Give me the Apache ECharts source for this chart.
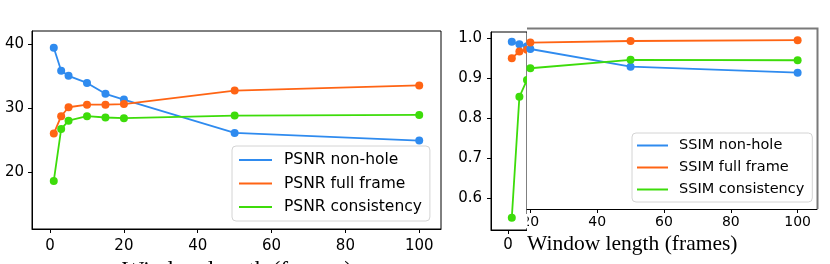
<!DOCTYPE html>
<html><head><meta charset="utf-8">
<script src="https://cdn.jsdelivr.net/npm/echarts@6/dist/echarts.min.js"></script>
<style>html,body{margin:0;padding:0;background:#fff}#c{width:830px;height:264px}</style>
</head><body><div id="c"></div>
<script>
// ---- data ----
const windows = [1, 3, 5, 10, 15, 20, 50, 100];
const psnrNonHole = [39.4, 35.8, 35.0, 33.9, 32.2, 31.3, 26.1, 24.9];
const psnrFullFrame = [26.0, 28.7, 30.1, 30.5, 30.5, 30.6, 32.7, 33.5];
const psnrConsistency = [18.6, 26.7, 28.0, 28.7, 28.5, 28.4, 28.8, 28.9];
const ssimNonHole = [0.990, 0.984, 0.979, null, null, 0.972, 0.928, 0.913];
const ssimFullFrame = [0.949, 0.966, 0.970, null, null, 0.988, 0.992, 0.994];
const ssimConsistency = [0.551, 0.853, 0.895, null, null, 0.924, 0.945, 0.944];
const psnrXTicks = [0, 20, 40, 60, 80, 100];
const psnrYTicks = [20, 30, 40];
const ssimYTicks = [0.6, 0.7, 0.8, 0.9, 1.0];
const ssimInsetXTicks = [0];
const ssimXTicks = [20, 40, 60, 80, 100];
const psnrNames = ['PSNR non-hole', 'PSNR full frame', 'PSNR consistency'];
const ssimNames = ['SSIM non-hole', 'SSIM full frame', 'SSIM consistency'];
const xLabel = 'Window length (frames)';

const colors = ['#2f8bef', '#ff6414', '#3ddc0a'];
const FONT = 'DejaVu Sans';
const pairs = (arr) => windows.map((w, i) => [w, arr[i]]);

function axisCommon(ticks, fs, margin, fmt) {
  return {
    axisLine: { show: true, onZero: false, lineStyle: { color: '#000', width: 1 } },
    axisTick: { show: true, inside: false, length: 4, customValues: ticks, lineStyle: { color: '#000' } },
    axisLabel: { show: true, customValues: ticks, color: '#000', fontFamily: FONT, fontSize: fs, margin: margin, formatter: fmt },
    splitLine: { show: false }
  };
}

function mk(name, data, color, xi, yi, z) {
  return {
    type: 'line', name: name, data: data, xAxisIndex: xi, yAxisIndex: yi,
    symbol: 'circle', symbolSize: 8, showSymbol: true, connectNulls: false,
    lineStyle: { color: color, width: 1.8 }, itemStyle: { color: color },
    z: z, clip: true, animation: false, emphasis: { disabled: true }
  };
}

const chart = echarts.init(document.getElementById('c'), null, { renderer: 'canvas' });
chart.setOption({
  animation: false,
  backgroundColor: '#fff',
  grid: [
    { left: 32, right: 389, top: 31, bottom: 35, show: true, borderColor: '#000', borderWidth: 1, backgroundColor: 'transparent', containLabel: false },
    { left: 491, right: 303, top: 32, bottom: 34, show: true, borderColor: '#000', borderWidth: 1, backgroundColor: 'transparent', containLabel: false },
    { left: 527, right: 13, top: 28, bottom: 55, show: false, containLabel: false }
  ],
  xAxis: [
    Object.assign({ type: 'value', gridIndex: 0, min: -4.9, max: 105.9 }, axisCommon(psnrXTicks, 15, 10)),
    Object.assign({ type: 'value', gridIndex: 1, min: -4.47, max: 5.0 }, axisCommon(ssimInsetXTicks, 15, 8)),
    Object.assign({ type: 'value', gridIndex: 2, min: 19.0, max: 105.8, z: 6 }, axisCommon(ssimXTicks, 14, 6))
  ],
  yAxis: [
    Object.assign({ type: 'value', gridIndex: 0, min: 11.1, max: 42.0 }, axisCommon(psnrYTicks, 15, 8)),
    Object.assign({ type: 'value', gridIndex: 1, min: 0.5207, max: 1.0145 }, axisCommon(ssimYTicks, 15, 9, (v) => v.toFixed(1))),
    { type: 'value', gridIndex: 2, min: 0.573, max: 1.0244, show: false, splitLine: { show: false } }
  ],
  legend: [
    {
      data: psnrNames, orient: 'vertical', left: 232, top: 146, z: 10,
      icon: 'rect', itemWidth: 33, itemHeight: 2, itemGap: 5.5,
      padding: [5, 8, 5, 7], borderColor: '#d4d4d4', borderWidth: 1, borderRadius: 4,
      backgroundColor: 'rgba(255,255,255,0.85)', selectedMode: false,
      textStyle: { fontFamily: FONT, fontSize: 15.5, color: '#000', lineHeight: 18, padding: [0, 0, 0, 7] }
    },
    {
      data: ssimNames, orient: 'vertical', left: 632, top: 133, z: 10,
      icon: 'rect', itemWidth: 31, itemHeight: 2, itemGap: 5,
      padding: [4, 8, 4, 5], borderColor: '#d4d4d4', borderWidth: 1, borderRadius: 4,
      backgroundColor: 'rgba(255,255,255,0.85)', selectedMode: false,
      textStyle: { fontFamily: FONT, fontSize: 14.5, color: '#000', lineHeight: 17, padding: [0, 0, 0, 6] }
    }
  ],
  graphic: [
    { type: 'rect', z: 3, silent: true, shape: { x: 527, y: 28, width: 303, height: 236 }, style: { fill: '#fff' } },
    { type: 'polyline', z: 4, silent: true, shape: { points: [[527, 28.5], [817.5, 28.5], [817.5, 209]] }, style: { stroke: '#7a7a7a', lineWidth: 2, fill: null } },
    { type: 'rect', z: 30, silent: true, shape: { x: 518, y: 214, width: 9.5, height: 14 }, style: { fill: '#fff' } },
    { type: 'text', z: 30, silent: true, style: { text: xLabel, x: 527, y: 244, textAlign: 'left', textVerticalAlign: 'middle', font: '21.5px "Liberation Serif"', fill: '#000' } },
    { type: 'text', z: 30, silent: true, style: { text: xLabel, x: 237, y: 271, textAlign: 'center', textVerticalAlign: 'middle', font: '23.5px "Liberation Serif"', fill: '#000' } }
  ],
  series: [
    mk(psnrNames[0], pairs(psnrNonHole), colors[0], 0, 0, 2),
    mk(psnrNames[1], pairs(psnrFullFrame), colors[1], 0, 0, 2),
    mk(psnrNames[2], pairs(psnrConsistency), colors[2], 0, 0, 2),
    mk(ssimNames[0], pairs(ssimNonHole), colors[0], 1, 1, 2),
    mk(ssimNames[1], pairs(ssimFullFrame), colors[1], 1, 1, 2),
    mk(ssimNames[2], pairs(ssimConsistency), colors[2], 1, 1, 2),
    mk(ssimNames[0], pairs(ssimNonHole), colors[0], 2, 2, 5),
    mk(ssimNames[1], pairs(ssimFullFrame), colors[1], 2, 2, 5),
    mk(ssimNames[2], pairs(ssimConsistency), colors[2], 2, 2, 5)
  ]
});
</script></body></html>
